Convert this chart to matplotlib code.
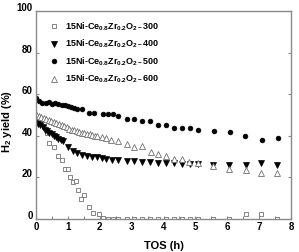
import matplotlib
matplotlib.use("Agg")
import matplotlib.pyplot as plt
from matplotlib.ticker import MultipleLocator
import matplotlib.transforms as mtransforms

base = 'Liberation Sans'
plt.rcParams['font.family'] = [base, 'DejaVu Sans']
plt.rcParams['font.weight'] = 'bold'
plt.rcParams['mathtext.fontset'] = 'custom'
plt.rcParams['mathtext.rm'] = base + ':bold'
plt.rcParams['mathtext.bf'] = base + ':bold'
plt.rcParams['mathtext.it'] = base + ':bold'
plt.rcParams['mathtext.default'] = 'bf'

labels = ["15Ni-Ce$_{0.8}$Zr$_{0.2}$O$_{2-}$300",
          "15Ni-Ce$_{0.8}$Zr$_{0.2}$O$_{2-}$400",
          "15Ni-Ce$_{0.8}$Zr$_{0.2}$O$_{2-}$500",
          "15Ni-Ce$_{0.8}$Zr$_{0.2}$O$_{2-}$600"]

x300 = [0, 0.08, 0.17, 0.25, 0.33, 0.42, 0.58, 0.7, 0.83, 0.92, 1.0, 1.08, 1.17, 1.25,
        1.33, 1.42, 1.5, 1.65, 1.8, 1.97, 2.1, 2.26, 2.4, 2.57, 2.85, 3.07, 3.32, 3.57,
        3.82, 4.08, 4.33, 4.58, 4.83, 5.08, 5.55, 6.05, 6.58, 7.07, 7.56]
y300 = [49, 47.5, 46, 44, 41.5, 36.5, 34.8, 30.5, 28.5, 23.8, 23.8, 20, 18, 18.3,
        14, 9.5, 11.3, 5.7, 3, 2.3, 0.5, 0, 0, 0, 0, 0, 0, 0,
        0, 0, 0, 0, 0, 0, 0, 0, 2.5, 2.5, 0]

x400 = [0, 0.07, 0.14, 0.21, 0.28, 0.35, 0.42, 0.49, 0.56, 0.63, 0.7, 0.77, 0.85,
        1.0, 1.15, 1.3, 1.45, 1.6, 1.75, 1.9, 2.06, 2.2, 2.37, 2.57, 2.85, 3.07, 3.32,
        3.57, 3.82, 4.08, 4.33, 4.58, 4.83, 5.08, 5.55, 6.05, 6.58, 7.07, 7.56]
y400 = [46.5, 45.5, 45, 44, 43, 42.5, 41.5, 41, 40, 39.5, 38.5, 38, 37.5,
        34.5, 32.5, 31.5, 31, 30.5, 30, 30, 29.5, 29, 28.5, 28.5, 28, 28, 27.5,
        27.5, 27, 27, 27, 26.5, 26.5, 26.5, 26, 26, 26, 26.8, 26]

x500 = [0, 0.1, 0.2, 0.3, 0.4, 0.5, 0.6, 0.7, 0.8, 0.9, 1.0, 1.1, 1.2, 1.3, 1.45,
        1.66, 1.82, 2.09, 2.26, 2.4, 2.57, 2.85, 3.07, 3.32, 3.57, 3.82, 4.08, 4.33,
        4.58, 4.83, 5.07, 5.58, 6.08, 6.57, 7.08, 7.58]
y500 = [58, 56.9, 56, 55.6, 56.4, 55.3, 55.9, 55.3, 54.8, 54.8, 54.3, 53.7, 53.2, 52.7, 52.7,
        51.1, 50.8, 50.5, 50.5, 50.5, 49.5, 48, 48, 47, 47, 45, 45, 43.8,
        43.8, 43.7, 42.8, 42.3, 41.8, 40, 38, 39]

x600 = [0, 0.08, 0.16, 0.24, 0.32, 0.4, 0.48, 0.56, 0.64, 0.72, 0.8, 0.88, 0.96, 1.04,
        1.12, 1.2, 1.28, 1.36, 1.44, 1.52, 1.6, 1.68, 1.76, 1.84, 1.92, 2.06, 2.19, 2.34,
        2.58, 2.84, 3.08, 3.33, 3.6, 3.84, 4.08, 4.33, 4.57, 4.8, 5.07, 5.55, 6.05, 6.58,
        7.07, 7.56]
y600 = [50.5, 49.5, 49, 48.5, 48, 47.5, 47, 46.5, 46, 45.5, 45, 44.5, 44, 43.5,
        43, 42.8, 42.5, 42, 41.5, 41.2, 41, 40.7, 40.4, 40, 39.8, 39.6, 38.8, 38,
        37.5, 36, 34.8, 35.2, 32.4, 31.4, 30.2, 29, 29, 27.6, 27, 25.6, 23.9, 23.6,
        22.3, 22]

fig = plt.figure(figsize=(2.99, 2.52), dpi=100)
ax = fig.add_axes([36/299, 1-219/252, 255/299, 208/252])

gray = '#8a8a8a'
ax.plot(x300, y300, ls='none', marker='s', ms=3.4, mfc='white', mec='#707070', mew=0.6, label=labels[0])
ax.plot(x400, y400, ls='none', marker='v', ms=4.2, mfc='black', mec='black', mew=0.5, label=labels[1])
ax.plot(x500, y500, ls='none', marker='o', ms=3.4, mfc='black', mec='black', mew=0.5, label=labels[2])
ax.plot(x600, y600, ls='none', marker='^', ms=4.4, mfc='white', mec='#707070', mew=0.6, label=labels[3])

ax.set_xlim(0, 8)
ax.set_ylim(0, 100)
ax.xaxis.set_major_locator(MultipleLocator(1))
ax.xaxis.set_minor_locator(MultipleLocator(0.5))
ax.yaxis.set_major_locator(MultipleLocator(20))
ax.tick_params(which='both', direction='in', length=2.5, width=0.8, color=gray,
               labelsize=7, right=True, top=False, pad=2.5)
for s in ax.spines.values():
    s.set_color(gray)
    s.set_linewidth(1.0)

off = mtransforms.ScaledTranslation(0, 4/100, fig.dpi_scale_trans)
for lab in ax.get_yticklabels():
    lab.set_transform(lab.get_transform() + off)
    lab.set_fontweight('bold')
for lab in ax.get_xticklabels():
    lab.set_fontweight('bold')

ax.set_xlabel("TOS (h)", fontsize=8, fontweight='bold')
ax.xaxis.set_label_coords(0.5, -(241 - 219) / 208)
ax.xaxis.label.set_va('top')
ax.set_ylabel("H$_2$ yield (%)", fontsize=8, fontweight='bold')
ax.yaxis.set_label_coords(-22/255, 0.47)

leg = ax.legend(loc='upper left', frameon=False, fontsize=6.5, handletextpad=0.6,
                labelspacing=0.55, borderaxespad=0.3, handlelength=1.2,
                bbox_to_anchor=(0.025, 0.985))

fig.savefig("out.png", dpi=100)
